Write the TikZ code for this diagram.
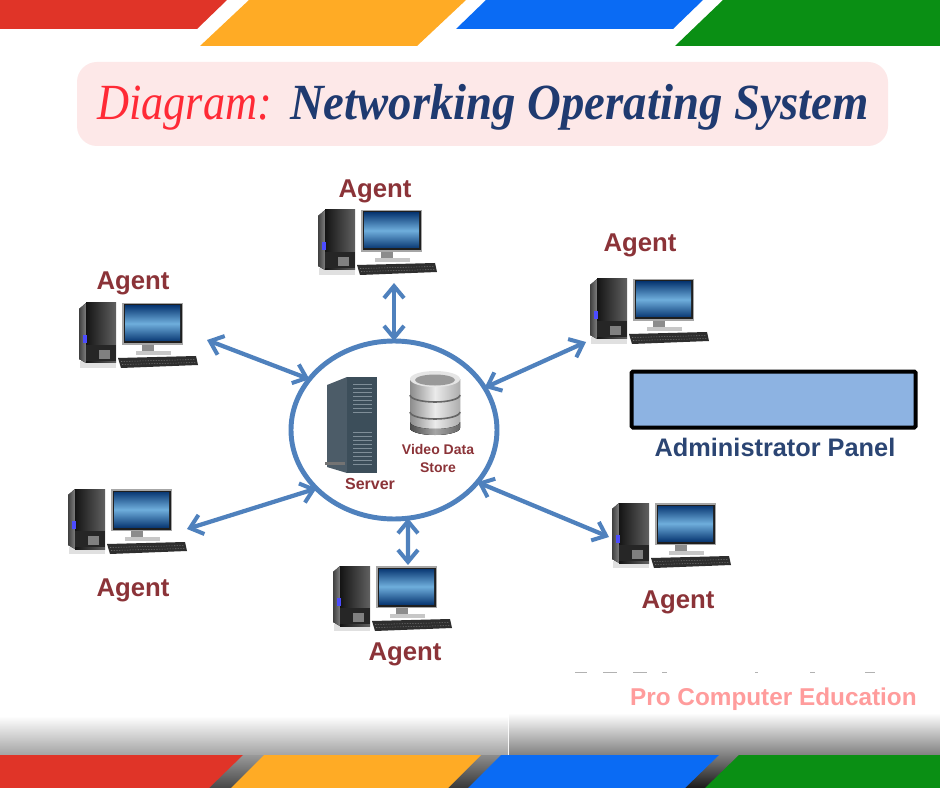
\documentclass[tikz,border=0pt]{standalone}
\usepackage{fontspec}
\usetikzlibrary{arrows.meta,shapes.geometric}
\setmainfont{Liberation Sans}
\newfontfamily\titleA[FakeStretch=0.875]{Liberation Serif Italic}
\newfontfamily\titleB[FakeStretch=0.922]{Liberation Serif Bold Italic}
\definecolor{barred}{HTML}{E03428}
\definecolor{barorange}{HTML}{FFAB25}
\definecolor{barblue}{HTML}{0A6BF4}
\definecolor{bargreen}{HTML}{0A8F14}
\definecolor{titlebg}{HTML}{FDE8E8}
\definecolor{titlered}{HTML}{FF2A36}
\definecolor{titlenavy}{HTML}{1F3A70}
\definecolor{linkblue}{HTML}{4F81BD}
\definecolor{agentred}{HTML}{8B3338}
\definecolor{panelblue}{HTML}{8DB3E2}
\definecolor{panelnavy}{HTML}{2B4573}
\definecolor{brand}{HTML}{FF9C9C}
\definecolor{srvside}{HTML}{4C5C68}
\definecolor{srvfront}{HTML}{3C4E5A}
\definecolor{srvgrill}{HTML}{7F8E98}
\definecolor{scrdark}{HTML}{0B3A75}
\definecolor{scrlight}{HTML}{6FAEDC}
\tikzset{
  x=0.75pt,y=-0.75pt,
  agentlabel/.style={font=\bfseries\fontsize{19.3}{22}\selectfont,text=agentred,inner sep=0pt},
  hublabel/.style={font=\bfseries\fontsize{10.5}{13.5}\selectfont,text=agentred,inner sep=0pt,align=center},
  link/.style={line width=3.2pt,draw=linkblue,{Straight Barb[length=9pt,width=15pt,line width=3pt]}-{Straight Barb[length=9pt,width=15pt,line width=3pt]}},
  port/.style={coordinate},
  agentbox/.style={rectangle,minimum width=89.25pt,minimum height=49.5pt,inner sep=0pt,outer sep=0pt,anchor=north west},
  cutmark/.style={draw=black!30,line width=1.4pt},
  pics/computer/.style={code={
    % tower
    \fill[black!12] (1,58) rectangle (37,65);
    \fill[left color=black!75,right color=black!50] (0,6)--(7,0)--(7,60)--(0,56)--cycle;
    \fill[left color=black!92,right color=black!62] (7,0) rectangle (37,60);
    \fill[black!85] (7,42) rectangle (37,58);
    \fill[black!50] (20,47) rectangle (31,56);
    \fill[blue!70!white] (4,32) rectangle (8,40);
    % monitor
    \fill[black!35] (43,0) rectangle (104,42);
    \fill[black!88] (44.5,1.5) rectangle (102.5,40.5);
    \fill[top color=scrdark,bottom color=scrdark,middle color=scrlight] (46,3) rectangle (101,38);
    \fill[black!45] (63,42) rectangle (75,50);
    \fill[black!22] (57,48) rectangle (92,52);
    % keyboard
    \fill[black!82] (39,55)--(117,53)--(119,62)--(42,65)--cycle;
    \draw[black!55,line width=.4pt,dash pattern=on 1pt off 1pt] (42,58.5)--(116,56.5);
    \draw[black!55,line width=.4pt,dash pattern=on 1pt off 1pt] (43,61.5)--(117,59.5);
  }}
}
\begin{document}
\begin{tikzpicture}
\useasboundingbox (0,0) rectangle (940,788);
\fill[white] (0,0) rectangle (940,788);
% top bars
\fill[barred] (0,0)--(227,0)--(197,29)--(0,29)--cycle;
\fill[barorange] (249,0)--(466,0)--(417,46)--(200,46)--cycle;
\fill[barblue] (486,0)--(703,0)--(673,29)--(456,29)--cycle;
\fill[bargreen] (723,0)--(940,0)--(940,46)--(675,46)--cycle;
% title
\fill[titlebg,rounded corners=15pt] (77,62) rectangle (888,146);
\node[anchor=base west,inner sep=0pt,text=titlered,font=\titleA\fontsize{38}{40}\selectfont] (titleleft) at (97,120) {Diagram:};
\node[anchor=base west,inner sep=0pt,text=titlenavy,font=\titleB\fontsize{38}{40}\selectfont] (titleright) at (290,120) {Networking Operating System};
% footer
\shade[top color=white,bottom color=black!36] (0,716) rectangle (508,755);
\shade[top color=white,bottom color=black!50] (509,713) rectangle (940,755);
\shade[top color=black!40,bottom color=black!72] (200,755) rectangle (270,788);
\shade[top color=black!45,bottom color=black!78] (440,755) rectangle (510,788);
\shade[top color=black!50,bottom color=black!90] (680,755) rectangle (745,788);
\fill[barred] (0,755)--(243,755)--(209,788)--(0,788)--cycle;
\fill[barorange] (264,755)--(481,755)--(448,788)--(231,788)--cycle;
\fill[barblue] (501,755)--(719,755)--(685,788)--(468,788)--cycle;
\fill[bargreen] (739,755)--(940,755)--(940,788)--(705,788)--cycle;
\node[anchor=base east,inner sep=0pt,text=brand,font=\bfseries\fontsize{18.25}{20}\selectfont] (brandname) at (917,705) {Pro Computer Education};
% clipped remains of a line of text above the brand name
\foreach \xa/\xb in {575/587,603/617,633/647,662/667,755/758,810/815,865/875}{\draw[cutmark] (\xa,672.5)--(\xb,672.5);}
% hub
\node[ellipse,draw=linkblue,line width=3.7pt,minimum width=154.5pt,minimum height=133.5pt,inner sep=0pt,outer sep=0pt] (hub) at (394,430) {};
% server
\fill[srvside] (327,385)--(347,377)--(347,473)--(327,467)--cycle;
\fill[srvfront] (347,377) rectangle (377,473);
\foreach \yy in {384,388,...,412,432,436,...,464}{\draw[srvgrill,line width=.6pt] (353,\yy)--(372,\yy);}
\fill[black!55] (325,462) rectangle (345,465);
% database
\fill[left color=black!45,right color=black!32,middle color=black!8] (410,379) -- (460,379) -- (460,428) arc[x radius=25,y radius=7,start angle=0,end angle=180] -- cycle;
\fill[left color=black!70,right color=black!60,middle color=black!35] (410,422) arc[x radius=25,y radius=7,start angle=180,end angle=0] -- (460,428) arc[x radius=25,y radius=7,start angle=0,end angle=180] -- cycle;
\draw[black!60,line width=1.2pt] (410,395) arc[x radius=25,y radius=7,start angle=180,end angle=0];
\draw[black!60,line width=1.2pt] (410,412) arc[x radius=25,y radius=7,start angle=180,end angle=0];
\fill[black!10] (435,379) ellipse[x radius=25,y radius=8];
\fill[black!40] (435,380) ellipse[x radius=20,y radius=5.5];
\node[hublabel] (store) at (438,458) {Video Data\\Store};
\node[hublabel,font=\bfseries\fontsize{12}{14}\selectfont] (serverlabel) at (370,484) {Server};
% agents
\node[agentbox] (a1) at (318,210) {}; \pic at (a1.north west) {computer};
\node[agentbox] (a2) at (590,279) {}; \pic at (a2.north west) {computer};
\node[agentbox] (a3) at (79,303) {};  \pic at (a3.north west) {computer};
\node[agentbox] (a4) at (68,489) {};  \pic at (a4.north west) {computer};
\node[agentbox] (a5) at (333,566) {}; \pic at (a5.north west) {computer};
\node[agentbox] (a6) at (612,503) {}; \pic at (a6.north west) {computer};
\node[agentlabel] (l1) at (375,191) {Agent};
\node[agentlabel] (l2) at (640,245) {Agent};
\node[agentlabel] (l3) at (133,283) {Agent};
\node[agentlabel] (l4) at (133,590) {Agent};
\node[agentlabel] (l5) at (405,654) {Agent};
\node[agentlabel] (l6) at (678,602) {Agent};
% connector ends
\node[port] (p1) at (394,283) {};
\node[port] (p2) at (586,342) {};
\node[port] (p3) at (207,340) {};
\node[port] (p4) at (187,529) {};
\node[port] (p5) at (408,565) {};
\node[port] (p6) at (609,537) {};
\draw[link] (p1) -- (hub.90);
\draw[link] (p2) -- (hub.25.3);
\draw[link] (p3) -- (hub.149.5);
\draw[link] (p4) -- (hub.217.7);
\draw[link] (p5) -- (hub.-81);
\draw[link] (p6) -- (hub.-32.7);
% admin panel
\node[rectangle,draw=black,line width=3pt,fill=panelblue,rounded corners=1pt,minimum width=213pt,minimum height=42pt,inner sep=0pt,anchor=north west] (panel) at (629.5,369.5) {};
\node[inner sep=0pt,text=panelnavy,font=\bfseries\fontsize{19}{22}\selectfont] (panellabel) at (775,447) {Administrator Panel};
\end{tikzpicture}
\end{document}
